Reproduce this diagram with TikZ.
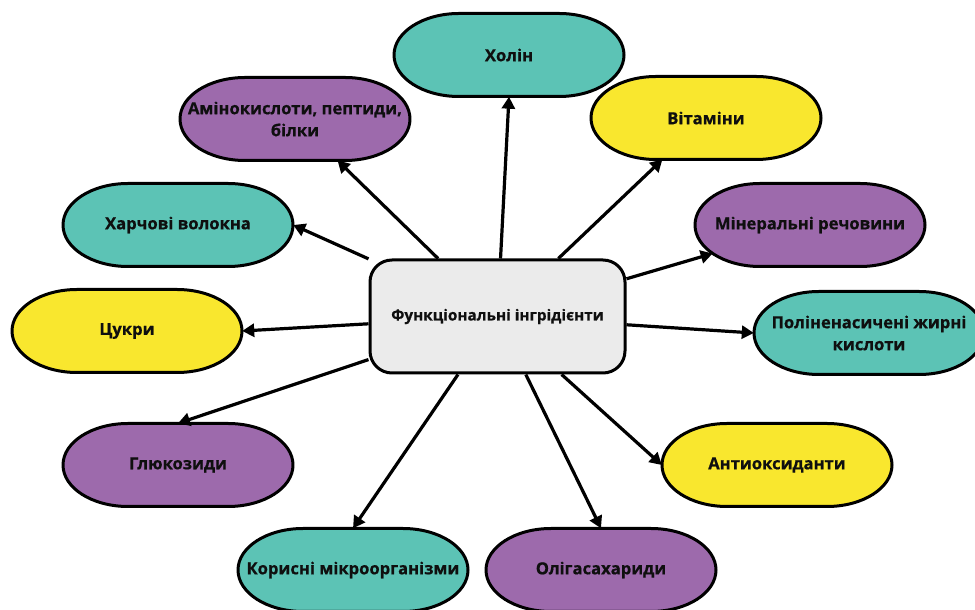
\documentclass[tikz,border=0pt]{standalone}
\usepackage{fontspec}
\setmainfont{Open Sans}[BoldFeatures={FakeBold=0.6}]
\usetikzlibrary{arrows.meta,intersections}
\definecolor{tealc}{RGB}{92,195,181}
\definecolor{purplec}{RGB}{157,106,172}
\definecolor{yellowc}{RGB}{249,231,46}
\definecolor{greyc}{RGB}{235,235,235}
\definecolor{inkc}{RGB}{15,15,15}
\tikzset{
  blobline/.style={draw=black, line width=3pt, line join=round},
  txt/.style={font=\bfseries\fontsize{16.6}{22}\selectfont, text=inkc, align=center,
    inner sep=0pt, minimum width=230pt, minimum height=83pt},
  centre/.style={draw=black, line width=3pt, fill=greyc, rounded corners=22pt,
    minimum width=255pt, minimum height=113pt, inner sep=0pt,
    font=\bfseries\fontsize{15.3}{19}\selectfont, text=inkc},
  arr/.style={line width=3.2pt, -{Triangle[length=12pt,width=13pt]}}
}
% \bubble{name}{x}{y}{colour}{text}
\newcommand\bubble[5]{%
  \draw[blobline, fill=#4, name path global=bp#1]
    (#2-50,#3+41.5) -- (#2+50,#3+41.5)
    arc[start angle=90, end angle=-90, x radius=65, y radius=41.5]
    -- (#2-50,#3-41.5)
    arc[start angle=270, end angle=90, x radius=65, y radius=41.5] -- cycle;
  \node[txt] (#1) at (#2,#3) {#5};
}
% arrow from the centre node towards the centre of a bubble, ending on its outline
\newcommand\linkmid[1]{%
  \path[name path=ln#1] (c.center) -- (#1.center);
  \path[name intersections={of=ln#1 and bp#1, by=e#1}];
  \draw[arr] (c) -- (e#1);
}
\begin{document}
\begin{tikzpicture}[x=1pt,y=1pt]
\useasboundingbox (0,0) rectangle (975,610);
\bubble{hol}{509}{555}{tealc}{Холін}
\bubble{amino}{295}{491}{purplec}{Амінокислоти, пептиди,\\білки}
\bubble{vit}{706}{492}{yellowc}{Вітаміни}
\bubble{harch}{178}{385}{tealc}{Харчові волокна}
\bubble{min}{810}{385}{purplec}{Мінеральні речовини}
\bubble{cukr}{127}{279}{yellowc}{Цукри}
\bubble{poly}{869}{277}{tealc}{Поліненасичені жирні\\кислоти}
\bubble{gluk}{178}{145}{purplec}{Глюкозиди}
\bubble{anti}{777}{145}{yellowc}{Антиоксиданти}
\bubble{koris}{353}{40}{tealc}{Корисні мікроорганізми}
\bubble{oligo}{601}{40}{purplec}{Олігасахариди}
\node[centre] (c) at (497.5,293.5) {Функціональні інгрідієнти};
\draw[arr] (c) -- (hol.south);
\linkmid{amino}
\linkmid{vit}
\draw[arr] (c) -- (harch.east);
\linkmid{min}
\draw[arr] (c) -- (cukr.east);
\draw[arr] (c) -- (poly.west);
\draw[arr] (c) -- (gluk.north);
\draw[arr] (c) -- (anti.west);
\draw[arr] (c) -- (koris.north);
\draw[arr] (c) -- (oligo.north);
\end{tikzpicture}
\end{document}
